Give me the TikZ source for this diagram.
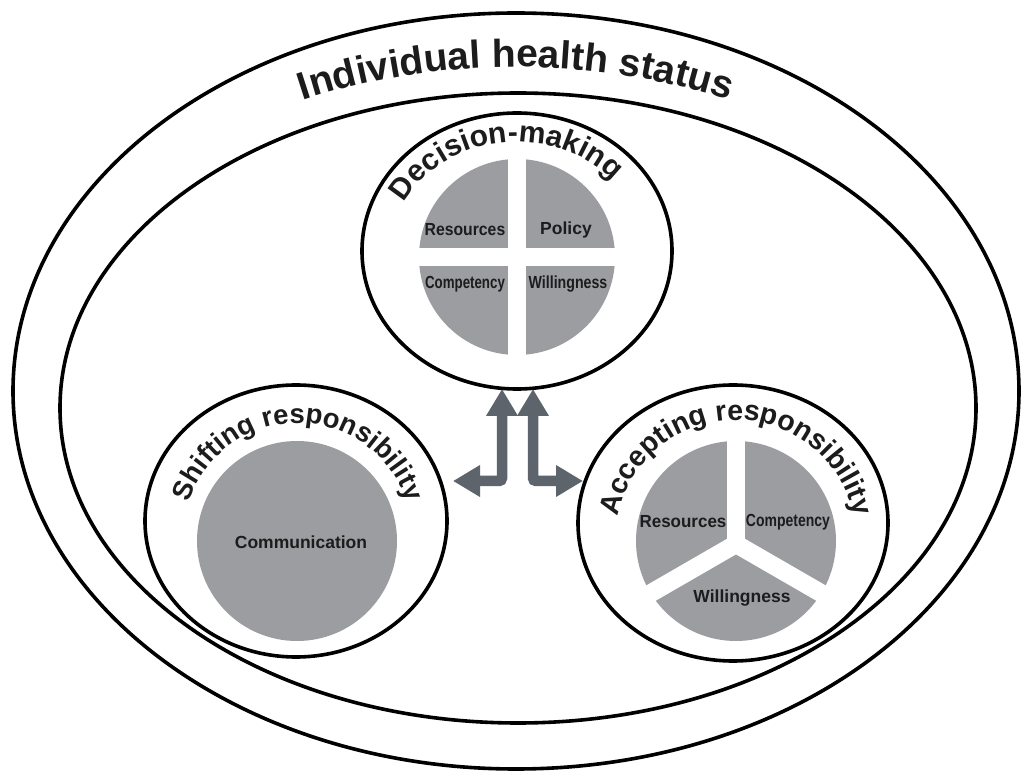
\documentclass[tikz,border=0pt]{standalone}
\usepackage{fontspec}
\setmainfont{Liberation Sans}
\usetikzlibrary{shapes.geometric,decorations.text,arrows.meta}
\definecolor{piegrey}{RGB}{156,157,161}
\definecolor{arrgrey}{RGB}{93,100,108}
\definecolor{ink}{RGB}{28,28,28}
\newcommand\ftitle{\fontsize{39pt}{41pt}\selectfont\bfseries}
\newcommand\fdec{\fontsize{30pt}{32pt}\selectfont\bfseries}
\newcommand\fshift{\fontsize{27.5pt}{29pt}\selectfont\bfseries}
\newcommand\facc{\fontsize{28.5pt}{30pt}\selectfont\bfseries}
\begin{document}
\begin{tikzpicture}[x=1pt,y=1pt,
  ring/.style={ellipse, draw=black, line width=3.6pt, inner sep=0pt, outer sep=0pt},
  disk/.style={circle, fill=piegrey, inner sep=0pt, outer sep=0pt},
  lab/.style={font=\fontsize{17.5pt}{19pt}\selectfont\bfseries, text=ink, inner sep=0pt},
  gapline/.style={draw=white, line width=18pt},
  bigarrow/.style={draw=arrgrey, line width=10.5pt, rounded corners=3pt,
    {Triangle[width=30pt,length=27pt]}-{Triangle[width=30pt,length=27pt]}}]
\useasboundingbox (0,0) rectangle (1021,772);
\fill[white] (0,0) rectangle (1021,772);
% outer rings
\node[ring, minimum width=1006, minimum height=756] (outer) at (516,381) {};
\node[ring, minimum width=916, minimum height=630] (inner) at (518,364) {};
% title
\path[decorate, decoration={text along path, text color=ink, text align=center,
  text={|\ftitle|Individual health status}}]
  (516,381) ++(125:482 and 324) arc[start angle=125, end angle=55, x radius=482, y radius=324];
% decision-making
\node[ring, minimum width=310, minimum height=276] (dec) at (517,521) {};
\node[disk, minimum size=196] (decpie) at (517,515) {};
\draw[gapline] (517,413) -- (517,617);
\draw[gapline] (415,515) -- (619,515);
\path[decorate, decoration={text along path, text color=ink, text align=center,
  text={|\fdec|Decision-making}}]
  (517,518) ++(170:127 and 112) arc[start angle=170, end angle=24, x radius=127, y radius=112];
\node[lab, xscale=0.9] (d1) at (465,542) {Resources};
\node[lab] (d2) at (566,542) {Policy};
\node[lab, xscale=0.76] (d3) at (465,488) {Competency};
\node[lab, xscale=0.81] (d4) at (568,488) {Willingness};
% shifting responsibility
\node[ring, minimum width=302, minimum height=272] (shift) at (296,251) {};
\node[disk, minimum size=200] (shiftdisk) at (297,231) {};
\path[decorate, decoration={text along path, text color=ink, text align=center,
  text={|\fshift|Shifting responsibility}}]
  (298,234) ++(172:115) arc[start angle=172, end angle=8, radius=115];
\node[lab] (s1) at (301,230) {Communication};
% accepting responsibility
\node[ring, minimum width=310, minimum height=276] (acc) at (733,249) {};
\node[disk, minimum size=200] (accpie) at (736,231) {};
\draw[gapline] (736,228) -- ++(90:106);
\draw[gapline] (736,228) -- ++(210:106);
\draw[gapline] (736,228) -- ++(330:106);
\path[decorate, decoration={text along path, text color=ink, text align=center,
  text={|\facc|Accepting responsibility}}]
  (736,231) ++(175:121) arc[start angle=175, end angle=5, radius=121];
\node[lab, xscale=0.97] (a1) at (683,250) {Resources};
\node[lab, xscale=0.8] (a2) at (788,250) {Competency};
\node[lab] (a3) at (742,174) {Willingness};
% arrows
\coordinate (tipL) at (453,291);
\coordinate (tipR) at (583,291);
\draw[bigarrow] ([xshift=-15pt]dec.south) |- (tipL);
\draw[bigarrow] ([xshift=16pt]dec.south) |- (tipR);
\end{tikzpicture}
\end{document}
